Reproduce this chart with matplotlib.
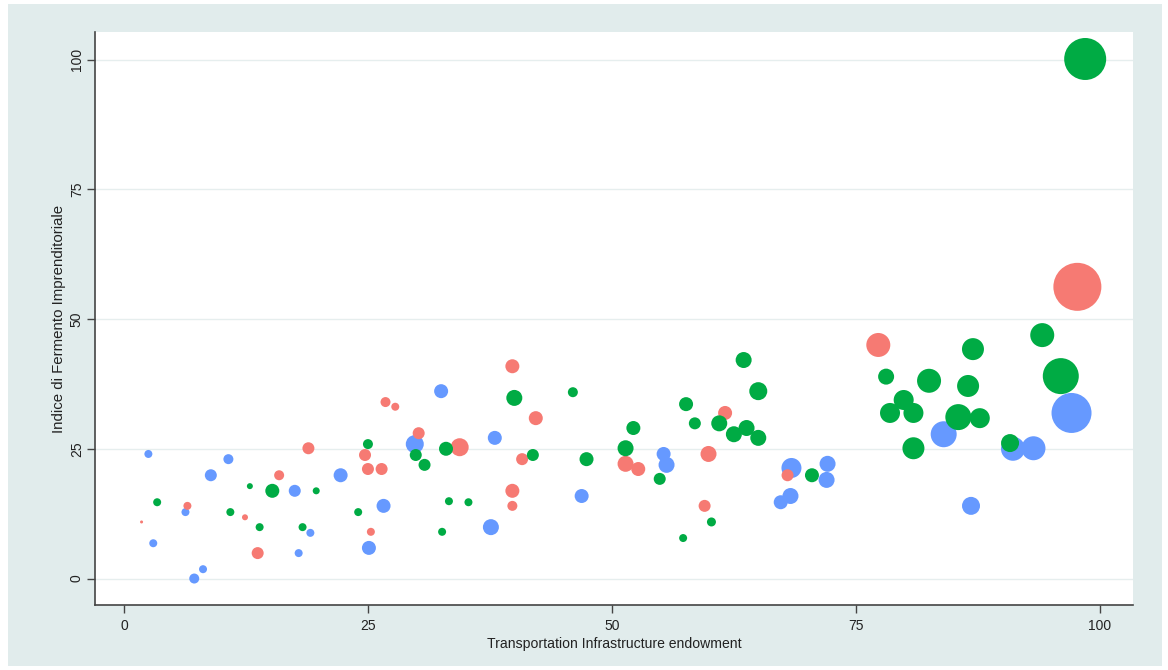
import matplotlib.pyplot as plt
import numpy as np
from matplotlib.patches import Rectangle

plt.rcParams['font.family'] = ['Liberation Sans', 'DejaVu Sans']

# gruppo rosso: infrastrutture (x), fermento (y), peso bolla
red_x = [1.8, 6.5, 12.4, 13.7, 15.9, 18.9, 24.7, 25.0, 25.3, 26.4, 26.8, 27.8, 30.2, 34.4,
         39.8, 39.8, 39.8, 42.2, 40.8, 51.4, 52.7, 59.5, 59.9, 61.6, 68.0, 77.3, 97.7]
red_y = [10.9, 14.0, 11.8, 4.9, 19.9, 25.1, 23.8, 21.1, 9.0, 21.1, 34.0, 33.1, 28.0, 25.3,
         40.9, 16.9, 14.0, 30.9, 23.0, 22.1, 21.1, 14.0, 24.0, 31.9, 19.9, 45.0, 56.2]
red_w = [1.5, 4, 3, 6, 5, 6, 6, 6, 4, 6, 5, 4, 6, 9,
         7, 7, 5, 7, 6, 8, 7, 6, 8, 7, 6, 12, 24]

# gruppo verde
green_x = [3.4, 10.9, 12.9, 13.9, 15.2, 18.3, 19.7, 24.0, 25.0, 29.9, 30.8, 33.0, 32.6, 33.3,
           35.3, 40.0, 41.9, 46.0, 47.4, 51.4, 52.2, 54.9, 57.3, 57.6, 58.5, 60.2, 61.0, 62.5,
           63.5, 63.8, 65.0, 65.0, 70.5, 78.1, 78.5, 79.9, 80.9, 80.9, 82.5, 85.5, 86.5, 87.0,
           87.7, 90.8, 94.1, 96.0, 98.5]
green_y = [14.7, 12.8, 17.8, 9.9, 16.9, 9.9, 16.9, 12.8, 25.9, 23.8, 21.9, 25.0, 9.0, 14.9,
           14.7, 34.8, 23.8, 35.9, 23.0, 25.1, 29.0, 19.2, 7.8, 33.6, 29.9, 10.9, 29.9, 27.8,
           42.1, 29.0, 27.1, 36.1, 19.9, 38.9, 31.9, 34.4, 31.9, 25.1, 38.1, 31.1, 37.1, 44.2,
           30.9, 26.1, 46.9, 39.0, 100.1]
green_w = [4, 4, 3, 4, 7, 4, 3.5, 4, 5, 6, 6, 7, 4, 4,
           4, 8, 6, 5, 7, 8, 7, 6, 4, 7, 6, 4.5, 8, 8,
           8, 8, 8, 9, 7, 8, 10, 10, 10, 11, 12, 13, 11, 11,
           10, 9, 12, 18, 21]

# gruppo blu
blue_x = [2.5, 3.0, 6.3, 7.2, 8.1, 8.9, 10.7, 17.5, 17.9, 19.1, 22.2, 25.1, 26.6, 29.8, 32.5,
          38.0, 37.6, 46.9, 55.3, 55.6, 67.3, 68.3, 68.4, 72.0, 72.1, 84.0, 86.8, 91.1, 93.2, 97.1]
blue_y = [24.0, 6.8, 12.8, 0.0, 1.8, 19.9, 23.0, 16.9, 4.9, 8.8, 19.9, 5.9, 14.0, 25.9, 36.1,
          27.1, 9.9, 15.9, 24.0, 21.9, 14.7, 15.9, 21.3, 19.0, 22.1, 27.8, 14.0, 25.0, 25.1, 31.9]
blue_w = [4, 4, 4, 5, 4, 6, 5, 6, 4, 4, 7, 7, 7, 9, 7,
          7, 8, 7, 7, 8, 7, 8, 10, 8, 8, 13, 9, 12, 12, 20]

yticks = [0, 25, 50, 75, 100]
xticks = [0, 25, 50, 75, 100]

fig = plt.figure(figsize=(11.68, 6.70), dpi=100)
fig.patch.set_facecolor('white')
fig.patches.append(Rectangle((8 / 1168, 4 / 670), 1154 / 1168, 662 / 670,
                             transform=fig.transFigure, facecolor='#e1ecec',
                             edgecolor='none', zorder=-10))

ax = fig.add_axes([95 / 1168, 65 / 670, 1038 / 1168, 573 / 670])
ax.set_zorder(1)
ax.set_facecolor('white')


def sz(w):
    # raggio in pixel -> area del marker in punti^2
    return (1.44 * np.asarray(w)) ** 2


ax.scatter(blue_x, blue_y, s=sz(blue_w), color='#6699ff', linewidths=0, zorder=3)
ax.scatter(red_x, red_y, s=sz(red_w), color='#f67a73', linewidths=0, zorder=3)
ax.scatter(green_x, green_y, s=sz(green_w), color='#00ab44', linewidths=0, zorder=3)

ax.set_xlim(-2.97, 103.4)
ax.set_ylim(-5.1, 105.3)
ax.set_xticks(xticks)
ax.set_yticks(yticks)
ax.set_yticklabels([str(t) for t in yticks], rotation=90, va='center')
ax.grid(axis='y', color='#e6eeee', linewidth=1)
ax.set_axisbelow(True)

for s in ['top', 'right']:
    ax.spines[s].set_visible(False)
for s in ['left', 'bottom']:
    ax.spines[s].set_color('#444444')
    ax.spines[s].set_linewidth(1.2)
ax.tick_params(length=6, width=1, color='#444444', labelsize=10, labelcolor='#222222')
ax.tick_params(axis='y', pad=2)
ax.tick_params(axis='x', pad=4)

ax.set_xlabel('Transportation Infrastructure endowment', fontsize=10.1, color='#222222', labelpad=3)
ax.set_ylabel('Indice di Fermento Imprenditoriale', fontsize=10.8, color='#222222', labelpad=3)

fig.savefig('out.png', dpi=100)
